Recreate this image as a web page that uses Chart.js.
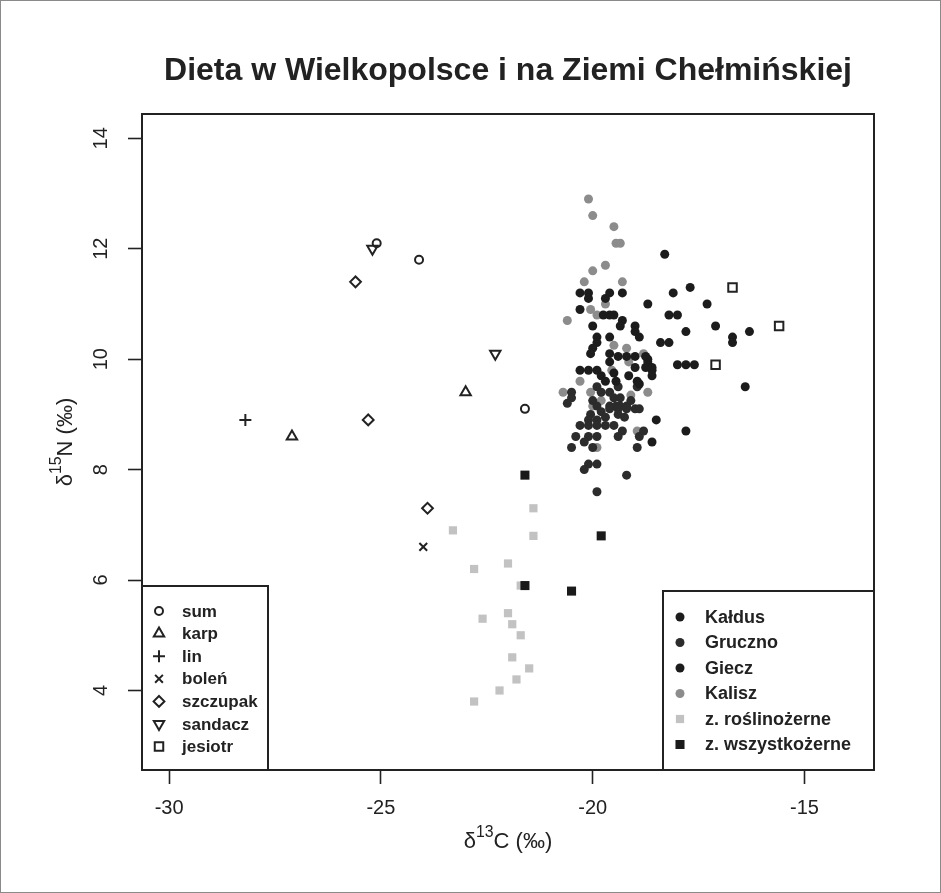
<!DOCTYPE html>
<html>
<head>
<meta charset="utf-8">
<style>
  html, body { margin: 0; padding: 0; background: #fff; }
  #chart { display: block; }
</style>
<script src="https://cdn.jsdelivr.net/npm/chart.js@4/dist/chart.umd.min.js"></script>
</head>
<body>
<canvas id="chart" width="941" height="893"></canvas>
<script>
// axis ticks
const xTicks = [-30, -25, -20, -15];
const yTicks = [4, 6, 8, 10, 12, 14];

// fish (open symbols)
const sum = [[-25.1, 12.1], [-24.1, 11.8], [-21.6, 9.1]];
const karp = [[-27.1, 8.6], [-23.0, 9.4]];
const lin = [[-28.2, 8.9]];
const bolen = [[-24.0, 6.6]];
const szczupak = [[-25.6, 11.4], [-25.3, 8.9], [-23.9, 7.3]];
const sandacz = [[-25.2, 12.0], [-22.3, 10.1]];
const jesiotr = [[-16.7, 11.3], [-15.6, 10.6], [-17.1, 9.9]];

// human samples
const kaldus = [[-20.3, 11.2], [-20.1, 11.2], [-20.1, 11.1], [-19.6, 11.2], [-19.7, 11.1], [-19.3, 11.2],
  [-20.3, 10.9], [-19.75, 10.8], [-19.6, 10.8], [-19.5, 10.8], [-20.0, 10.6], [-19.35, 10.6], [-19.3, 10.7],
  [-19.0, 10.6], [-19.0, 10.5], [-19.9, 10.4], [-19.6, 10.4], [-18.9, 10.4], [-19.9, 10.3], [-20.0, 10.2],
  [-20.05, 10.1], [-19.6, 10.1], [-19.4, 10.05], [-19.2, 10.05], [-19.0, 10.05], [-18.75, 10.05], [-19.6, 9.95],
  [-20.3, 9.8], [-20.1, 9.8], [-19.9, 9.8], [-19.5, 9.75], [-19.0, 9.85], [-18.75, 9.85], [-18.6, 9.85],
  [-19.8, 9.7], [-18.95, 9.6], [-19.7, 9.6], [-19.45, 9.6], [-19.15, 9.7], [-18.9, 9.55]];
const gruczno = [[-18.95, 9.5], [-19.9, 9.5], [-19.4, 9.5], [-20.5, 9.4], [-19.8, 9.4], [-19.6, 9.4], [-20.5, 9.3],
  [-20.6, 9.2], [-20.0, 9.25], [-19.9, 9.15], [-19.5, 9.3], [-19.35, 9.3], [-19.6, 9.15], [-19.45, 9.15],
  [-19.35, 9.15], [-19.2, 9.15], [-19.1, 9.25], [-19.0, 9.1], [-18.9, 9.1], [-19.6, 9.1], [-19.4, 9.1],
  [-19.2, 9.1], [-19.8, 9.05], [-20.05, 9.0], [-19.7, 8.95], [-19.4, 9.0], [-19.25, 8.95], [-20.1, 8.9],
  [-19.9, 8.9], [-20.3, 8.8], [-20.1, 8.8], [-19.9, 8.8], [-19.7, 8.8], [-19.5, 8.8], [-19.3, 8.7], [-18.8, 8.7],
  [-20.4, 8.6], [-20.1, 8.6], [-19.9, 8.6], [-19.4, 8.6], [-18.9, 8.6], [-20.2, 8.5], [-20.5, 8.4], [-20.0, 8.4],
  [-18.95, 8.4], [-20.1, 8.1], [-19.9, 8.1], [-20.2, 8.0], [-19.2, 7.9], [-19.9, 7.6]];
const giecz = [[-18.3, 11.9], [-18.1, 11.2], [-17.7, 11.3], [-18.7, 11.0], [-17.3, 11.0], [-18.2, 10.8], [-18.0, 10.8],
  [-17.8, 10.5], [-17.1, 10.6], [-16.3, 10.5], [-16.7, 10.4], [-16.7, 10.3], [-18.4, 10.3], [-18.2, 10.3],
  [-18.0, 9.9], [-17.8, 9.9], [-17.6, 9.9], [-16.4, 9.5], [-18.7, 10.0], [-18.6, 9.8], [-18.6, 9.7],
  [-18.7, 9.95], [-18.5, 8.9], [-17.8, 8.7], [-18.6, 8.5]];
const kalisz = [[-20.1, 12.9], [-20.0, 12.6], [-19.5, 12.4], [-19.45, 12.1], [-19.35, 12.1], [-19.7, 11.7], [-20.0, 11.6],
  [-20.2, 11.4], [-19.3, 11.4], [-19.7, 11.0], [-20.05, 10.9], [-19.9, 10.8], [-20.6, 10.7], [-19.5, 10.25],
  [-19.2, 10.2], [-18.8, 10.1], [-19.15, 9.95], [-19.55, 9.8], [-20.3, 9.6], [-18.7, 9.4], [-20.7, 9.4],
  [-20.05, 9.4], [-19.1, 9.35], [-19.8, 9.25], [-20.0, 9.15], [-18.95, 8.7], [-19.9, 8.4]];

// animals
const roslinozerne = [[-21.4, 7.3], [-23.3, 6.9], [-21.4, 6.8], [-22.0, 6.3], [-22.8, 6.2], [-21.7, 5.9], [-22.6, 5.3],
  [-22.0, 5.4], [-21.9, 5.2], [-21.7, 5.0], [-21.9, 4.6], [-21.5, 4.4], [-21.8, 4.2], [-22.2, 4.0], [-22.8, 3.8]];
const wszystkozerne = [[-21.6, 7.9], [-21.6, 5.9], [-20.5, 5.8], [-19.8, 6.8]];

const FONT = '"Liberation Sans", Arial, Helvetica, sans-serif';
const INK = '#222';

const toXY = arr => arr.map(([x, y]) => ({ x, y }));

function filled(label, data, color, style, radius) {
  return {
    label, data: toXY(data), showLine: false,
    pointStyle: style, pointRadius: radius, pointHoverRadius: radius,
    pointBackgroundColor: color, pointBorderColor: color, pointBorderWidth: 0
  };
}
function open(label, data, style, radius, rotation) {
  return {
    label, data: toXY(data), showLine: false,
    pointStyle: style, pointRadius: radius, pointHoverRadius: radius, pointRotation: rotation || 0,
    pointBackgroundColor: 'rgba(0,0,0,0)', pointBorderColor: INK, pointBorderWidth: 2
  };
}

const ds = {
  wszystkozerne: filled('z. wszystkożerne', wszystkozerne, '#1a1a1a', 'rect', 6.4),
  kaldus: filled('Kałdus', kaldus, '#1c1c1c', 'circle', 4.5),
  giecz: filled('Giecz', giecz, '#1c1c1c', 'circle', 4.5),
  gruczno: filled('Gruczno', gruczno, '#2c2c2c', 'circle', 4.5),
  kalisz: filled('Kalisz', kalisz, '#8c8c8c', 'circle', 4.5),
  roslinozerne: filled('z. roślinożerne', roslinozerne, '#c2c2c2', 'rect', 5.8),
  sum: open('sum', sum, 'circle', 4),
  karp: open('karp', karp, 'triangle', 6),
  lin: open('lin', lin, 'cross', 6),
  bolen: open('boleń', bolen, 'crossRot', 5.5),
  szczupak: open('szczupak', szczupak, 'rectRot', 5.4),
  sandacz: open('sandacz', sandacz, 'triangle', 6, 180),
  jesiotr: open('jesiotr', jesiotr, 'rect', 6)
};

const fishLegend = ['sum', 'karp', 'lin', 'bolen', 'szczupak', 'sandacz', 'jesiotr'];
const siteLegend = ['kaldus', 'gruczno', 'giecz', 'kalisz', 'roslinozerne', 'wszystkozerne'];

function textWithSup(ctx, parts, size, cx, cy, rot) {
  ctx.save();
  ctx.translate(cx, cy);
  if (rot) ctx.rotate(rot);
  ctx.textBaseline = 'alphabetic';
  ctx.textAlign = 'left';
  let w = 0;
  parts.forEach(p => {
    ctx.font = (p.sup ? size * 0.72 : size) + 'px ' + FONT;
    p.w = ctx.measureText(p.t).width;
    w += p.w;
  });
  let x = -w / 2;
  parts.forEach(p => {
    ctx.font = (p.sup ? size * 0.72 : size) + 'px ' + FONT;
    ctx.fillText(p.t, x, p.sup ? size * 0.36 - size * 0.5 : size * 0.36);
    x += p.w;
  });
  ctx.restore();
}

function legendBox(ctx, keys, box, symX, textX, y0, step, fontSize) {
  ctx.save();
  ctx.fillStyle = '#fff';
  ctx.fillRect(box.x, box.y, box.w, box.h);
  ctx.lineWidth = 2;
  ctx.strokeStyle = INK;
  ctx.strokeRect(box.x, box.y, box.w, box.h);
  keys.forEach((k, i) => {
    const d = ds[k];
    const y = y0 + i * step;
    ctx.fillStyle = d.pointBackgroundColor;
    ctx.strokeStyle = d.pointBorderColor;
    ctx.lineWidth = d.pointBorderWidth;
    Chart.helpers.drawPoint(ctx, {
      pointStyle: d.pointStyle, radius: d.pointRadius, rotation: d.pointRotation || 0,
      borderWidth: d.pointBorderWidth
    }, symX, y);
    ctx.fillStyle = INK;
    ctx.font = 'bold ' + fontSize + 'px ' + FONT;
    ctx.textAlign = 'left';
    ctx.textBaseline = 'middle';
    ctx.fillText(d.label, textX, y + 1);
  });
  ctx.restore();
}

const decor = {
  id: 'decor',
  afterDraw(chart) {
    const ctx = chart.ctx;
    const a = chart.chartArea;
    const ys = chart.scales.y;
    ctx.save();
    // outer figure border
    ctx.lineWidth = 1;
    ctx.strokeStyle = '#8a8a8a';
    ctx.strokeRect(0.5, 0.5, chart.width - 1, chart.height - 1);

    // plot frame
    ctx.lineWidth = 2;
    ctx.strokeStyle = INK;
    ctx.strokeRect(a.left, a.top, a.right - a.left, a.bottom - a.top);

    // legends
    legendBox(ctx, fishLegend, { x: a.left, y: 586, w: 268 - a.left, h: a.bottom - 586 }, 159, 182, 611, 22.6, 17);
    legendBox(ctx, siteLegend, { x: 663, y: 591, w: a.right - 663, h: a.bottom - 591 }, 680, 705, 617, 25.5, 18);

    // title
    ctx.fillStyle = INK;
    ctx.font = 'bold 32px ' + FONT;
    ctx.textAlign = 'center';
    ctx.textBaseline = 'alphabetic';
    ctx.fillText('Dieta w Wielkopolsce i na Ziemi Chełmińskiej', (a.left + a.right) / 2, 80);

    // rotated y tick labels
    ctx.font = '20px ' + FONT;
    yTicks.forEach(v => {
      ctx.save();
      ctx.translate(101, ys.getPixelForValue(v));
      ctx.rotate(-Math.PI / 2);
      ctx.textAlign = 'center';
      ctx.textBaseline = 'middle';
      ctx.fillText(String(v), 0, 0);
      ctx.restore();
    });

    // axis titles
    textWithSup(ctx, [{ t: 'δ' }, { t: '13', sup: true }, { t: 'C (‰)' }], 22, (a.left + a.right) / 2, 840, 0);
    textWithSup(ctx, [{ t: 'δ' }, { t: '15', sup: true }, { t: 'N (‰)' }], 22, 64, (a.top + a.bottom) / 2, -Math.PI / 2);
    ctx.restore();
  }
};

const tickGrid = { drawOnChartArea: false, drawTicks: true, tickLength: 14, tickColor: INK, tickWidth: 1.6 };

new Chart(document.getElementById('chart'), {
  type: 'scatter',
  data: {
    datasets: [ds.wszystkozerne, ds.kaldus, ds.giecz, ds.gruczno, ds.kalisz, ds.roslinozerne,
      ds.sum, ds.karp, ds.lin, ds.bolen, ds.szczupak, ds.sandacz, ds.jesiotr]
  },
  options: {
    responsive: false,
    animation: false,
    layout: { padding: { top: 114, right: 67, left: 0, bottom: 0 } },
    plugins: { legend: { display: false }, tooltip: { enabled: false } },
    scales: {
      x: {
        type: 'linear', min: -30.64, max: -13.36,
        afterBuildTicks: s => { s.ticks = xTicks.map(v => ({ value: v })); },
        afterFit: s => { s.height = 123; },
        grid: tickGrid,
        border: { display: false },
        ticks: { color: INK, font: { family: FONT, size: 20 }, padding: 12, maxRotation: 0, callback: v => String(v) }
      },
      y: {
        type: 'linear', min: 2.56, max: 14.44,
        afterBuildTicks: s => { s.ticks = yTicks.map(v => ({ value: v })); },
        afterFit: s => { s.width = 142; },
        grid: tickGrid,
        border: { display: false },
        ticks: { color: 'rgba(0,0,0,0)', font: { family: FONT, size: 20 }, callback: v => String(v) }
      }
    }
  },
  plugins: [decor]
});
</script>
</body>
</html>
